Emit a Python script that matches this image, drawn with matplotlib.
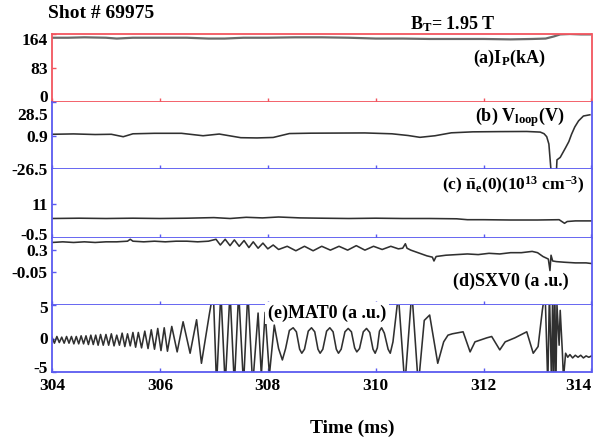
import matplotlib
matplotlib.use("Agg")
import matplotlib.pyplot as plt
import matplotlib.transforms as mtransforms

plt.rcParams['font.family'] = ['Liberation Serif', 'DejaVu Serif']
plt.rcParams['font.weight'] = 'bold'
plt.rcParams['mathtext.fontset'] = 'custom'
plt.rcParams['mathtext.rm'] = 'Liberation Serif:bold'
plt.rcParams['mathtext.it'] = 'Liberation Serif:bold'
plt.rcParams['mathtext.bf'] = 'Liberation Serif:bold'

# ---------------- data ----------------
x_ticks = [304, 306, 308, 310, 312, 314]

# (a) plasma current Ip (kA)
t_ip = [304.0, 304.3, 304.6, 305.0, 305.2, 305.5, 306.0, 306.5, 306.9, 307.2, 307.55,
        308.0, 308.5, 309.0, 309.5, 310.0, 310.5, 311.0, 311.5, 312.0, 312.5, 312.9,
        313.15, 313.3, 313.42, 313.6, 313.8, 313.97]
ip = [155, 155, 156, 155, 153, 155, 155, 155, 153, 153, 155,
      155, 156, 156, 155, 153, 153, 152, 152, 152, 151, 152,
      153, 158, 163, 164, 163, 163]

# (b) loop voltage (V)
t_vl = [304.0, 304.4, 304.8, 305.1, 305.32, 305.5, 305.9, 306.4, 306.8, 307.1,
        307.5, 307.8, 308.1, 308.4, 308.8, 309.3, 309.8, 310.3, 310.6, 310.82,
        311.1, 311.4, 311.8, 312.3, 312.8, 313.05, 313.12, 313.17, 313.21, 313.25,
        313.35, 313.36, 313.42, 313.47, 313.52, 313.58, 313.63, 313.69, 313.76, 313.85,
        313.97]
vl = [2.0, 2.3, 1.8, 2.0, 0.0, 2.4, 2.8, 2.8, 0.8, 2.2,
      -0.8, -1.0, -0.6, 2.6, 2.9, 3.0, 3.1, 2.4, 1.0, -0.5,
      0.8, 3.2, 4.0, 4.2, 4.3, 3.8, 2.5, 0.0, -6.0, -28.0,
      -28.0, -19.0, -17.0, -13.0, -9.0, -4.0, 2.0, 8.0, 13.0, 17.0,
      18.0]

# (c) line-averaged density (1e13 cm^-3)
t_ne = [304.0, 304.5, 305.0, 305.5, 306.0, 306.5, 307.0, 307.3, 307.6, 307.9,
        308.2, 308.6, 309.0, 309.5, 310.0, 310.5, 311.0, 311.5, 311.7, 312.0,
        312.5, 313.0, 313.4, 313.5, 313.55, 313.7, 314.0]
ne = [6.0, 6.1, 6.0, 6.1, 6.0, 6.1, 6.3, 6.0, 6.4, 6.2,
      6.5, 6.2, 6.1, 6.0, 6.1, 6.0, 6.0, 5.9, 5.6, 5.6,
      5.5, 5.5, 5.6, 4.4, 5.0, 5.2, 5.2]

# (d) soft X-ray SXV0 (a.u.)
t_sx = [304.0, 304.2, 304.4, 304.6, 304.8, 305.0, 305.2, 305.4, 305.45, 305.5,
        305.7, 305.9, 306.1, 306.3, 306.5, 306.7, 306.9,
        307.04, 307.12, 307.21, 307.30, 307.38, 307.47, 307.56, 307.65, 307.73, 307.82,
        307.91, 308.0, 308.1, 308.2,
        308.36, 308.52, 308.68, 308.84, 309.0, 309.16, 309.32, 309.48, 309.64, 309.80,
        309.96, 310.12, 310.28, 310.42, 310.5, 310.55, 310.58, 310.65, 310.75, 310.85,
        310.95, 311.05, 311.08, 311.12, 311.3, 311.5, 311.7, 311.9, 312.1, 312.3,
        312.5, 312.7, 312.9, 313.0, 313.1, 313.2, 313.23, 313.25, 313.28, 313.35,
        313.5, 313.7, 313.9, 314.0]
sx = [0.42, 0.43, 0.42, 0.43, 0.42, 0.43, 0.43, 0.44, 0.47, 0.44,
      0.43, 0.44, 0.43, 0.44, 0.44, 0.43, 0.44,
      0.47, 0.38, 0.47, 0.37, 0.46, 0.36, 0.45, 0.34, 0.43, 0.33,
      0.41, 0.32, 0.38, 0.31,
      0.36, 0.29, 0.36, 0.29, 0.36, 0.30, 0.36, 0.30, 0.37, 0.30,
      0.36, 0.31, 0.36, 0.32, 0.33, 0.40, 0.33, 0.30, 0.27, 0.24,
      0.21, 0.19, 0.13, 0.20, 0.22, 0.23, 0.24, 0.23, 0.25, 0.24,
      0.26, 0.26, 0.28, 0.26, 0.20, 0.16, -0.02, 0.22, 0.13, 0.12,
      0.11, 0.10, 0.10, 0.09]

# (e) Mirnov signal MAT0 (a.u.)
t_mat = [304.000, 304.045, 304.090, 304.135, 304.180, 304.225, 304.270, 304.315, 304.360, 304.405,
         304.450, 304.495, 304.540, 304.585, 304.630, 304.675, 304.720, 304.765, 304.810, 304.855,
         304.900, 304.950, 305.000, 305.050, 305.100, 305.150, 305.200, 305.250, 305.300, 305.350,
         305.400, 305.450, 305.500, 305.550, 305.600, 305.660, 305.720, 305.780, 305.840, 305.900,
         305.960, 306.020, 306.080, 306.140, 306.220, 306.320, 306.430, 306.560, 306.680, 306.770,
         306.920, 306.990, 307.050, 307.130, 307.210, 307.300, 307.380, 307.460, 307.550, 307.630,
         307.720, 307.820, 307.880, 307.950, 308.030, 308.120, 308.200, 308.270, 308.330, 308.400,
         308.470, 308.530, 308.590, 308.630, 308.680, 308.750, 308.810, 308.870, 308.930, 308.970,
         309.020, 309.090, 309.150, 309.210, 309.270, 309.310, 309.360, 309.430, 309.490, 309.550,
         309.610, 309.650, 309.700, 309.770, 309.830, 309.890, 309.950, 309.990, 310.030, 310.070,
         310.110, 310.160, 310.230, 310.270, 310.320, 310.420,
         310.540, 310.670, 310.790, 310.900, 311.000, 311.150, 311.260, 311.340, 311.420, 311.620,
         311.750, 311.840, 312.060, 312.150, 312.300, 312.400, 312.580, 312.800, 312.920, 313.010,
         313.090, 313.140, 313.190, 313.220, 313.260, 313.280, 313.300, 313.320, 313.340, 313.360,
         313.400, 313.420, 313.460, 313.480, 313.520, 313.560, 313.600, 313.650, 313.700, 313.750,
         313.800, 313.850, 313.900, 313.950, 314.000]
mat = [0.2, -0.7, 0.3, -0.6, 0.2, -0.7, 0.3, -0.7, 0.3, -0.8,
       0.3, -0.8, 0.4, -0.8, 0.4, -0.9, 0.5, -0.9, 0.5, -1.0,
       0.6, -1.0, 0.6, -1.0, 0.7, -1.1, 0.5, -1.0, 0.8, -1.2,
       0.7, -1.1, 0.9, -1.3, 0.9, -1.4, 1.1, -1.5, 1.3, -1.6,
       1.5, -1.8, 1.6, -1.9, 1.8, -2.0, 2.5, -2.2, 2.8, -3.7,
       3.8, 7.0, -7.0, 7.0, -7.0, 7.0, -7.0, 7.0, -7.0, 7.0,
       -7.0, 3.8, -5.5, 3.9, -5.4, 2.0, -1.5, -3.2, -1.5, 1.2,
       1.6, 1.0, -1.6, -2.2, -1.6, 1.1, 1.6, 1.0, -1.6, -2.2,
       -1.6, 1.1, 1.6, 1.0, -1.6, -2.2, -1.6, 1.0, 1.5, 1.0,
       -1.4, -2.0, -1.5, 1.0, 1.5, 0.9, -1.6, -2.2, -1.4, 1.1,
       1.6, 0.8, -1.6, -2.2, -0.5, 6.5,
       -7.0, 7.0, -7.0, 2.7, 3.5, -3.7, -0.5, 0.5, 0.7, 1.0,
       -2.0, -0.5, 0.1, 0.3, -1.7, -0.5, 0.1, 1.0, -2.2, -1.2,
       4.3, 7.0, -7.0, 7.0, -7.0, 7.0, -7.0, 7.0, -7.0, 5.0,
       -1.0, 4.2, -2.0, -6.0, -2.2, -2.8, -2.4, -2.9, -2.5, -2.8,
       -2.5, -2.9, -2.6, -2.8, -2.6]

# ---------------- layout ----------------
W, H = 601, 443
fig = plt.figure(figsize=(W / 100, H / 100), dpi=100)
left_px, right_px = 52, 591.5
panels_px = [(34, 102), (102, 169), (169, 238), (238, 305), (305, 372)]
RED = '#f2555f'
BLUE = '#5a5af0'
LINE = '#303030'

def make_ax(top, bot):
    return fig.add_axes([left_px / W, 1 - bot / H, (right_px - left_px) / W, (bot - top) / H])

axes = [make_ax(t, b) for t, b in panels_px]

series = [(t_ip, ip), (t_vl, vl), (t_ne, ne), (t_sx, sx), (t_mat, mat)]
ylims = [(0, 164), (-26.5, 28.5), (-0.5, 22.5), (-0.56, 0.49), (-5, 5)]
yticks = [[0, 83, 164], [-26.5, 0.9, 28.5], [-0.5, 11], [-0.05, 0.3], [-5, 0, 5]]
ylabels = [['0', '83', '164'], ['-26.5', '0.9', '28.5'], ['-0.5', '11'], ['-0.05', '0.3'], ['-5', '0', '5']]
ydy = [[6, 0, -5], [0, 0, -12], [4, 0], [0, 0], [5, 0, -2]]

for i, ax in enumerate(axes):
    col = RED if i == 0 else BLUE
    t, v = series[i]
    if i == 0:
        ax.plot(t, v, color='#6a6a6a', lw=1.6)
    else:
        ax.plot(t, v, color=LINE, lw=1.15)
    ax.set_xlim(304, 314)
    ax.set_ylim(*ylims[i])
    for s in ax.spines.values():
        s.set_color(col)
        s.set_linewidth(1.3)
    if i > 0:
        ax.spines['top'].set_visible(False)
    ax.set_xticks(x_ticks)
    ax.tick_params(axis='x', direction='in', length=3, width=1, color=col,
                   top=False, bottom=True, labelbottom=(i == 4), pad=4,
                   labelsize=12.5)
    ax.tick_params(axis='y', direction='in', length=3, width=1, color=col,
                   left=True, right=False, labelsize=12.5, pad=3)
    ax.set_yticks(yticks[i])
    ax.set_yticklabels(ylabels[i])
    for tk, dy in zip(ax.yaxis.get_major_ticks(), ydy[i]):
        lab = tk.label1
        lab.set_fontweight('bold')
        lab.set_transform(lab.get_transform() +
                          mtransforms.ScaledTranslation(0, dy / 100, fig.dpi_scale_trans))

axe = axes[4]
for lab in axe.get_xticklabels():
    lab.set_fontweight('bold')
xt = axe.xaxis.get_major_ticks()
xt[-1].label1.set_horizontalalignment('right')

def ftext(x, y, s, size, **kw):
    return fig.text(x / W, 1 - y / H, s, fontsize=size, fontweight='bold',
                    ha='left', va='center', **kw)

ftext(48, 14, 'Shot # 69975', 14)
ftext(410, 24, r'B$_\mathrm{T}$= 1.95 T', 13)
ftext(473, 58, r'(a)I$_\mathrm{P}$(kA)', 13)
ftext(475, 117, r'(b) V$_\mathrm{loop}$(V)', 13)
ftext(442, 185, r'(c) $\bar{\mathrm{n}}_\mathrm{e}$(0)(10$^{13}$ cm$^{-3}$)', 12.5)
ftext(453, 281, '(d)SXV0 (a .u.)', 13)
ftext(268, 313, '(e)MAT0 (a .u.)', 13,
      bbox=dict(facecolor='white', edgecolor='none', pad=2.0))
ftext(310, 428, 'Time (ms)', 14)

fig.savefig('out.png', dpi=100)
